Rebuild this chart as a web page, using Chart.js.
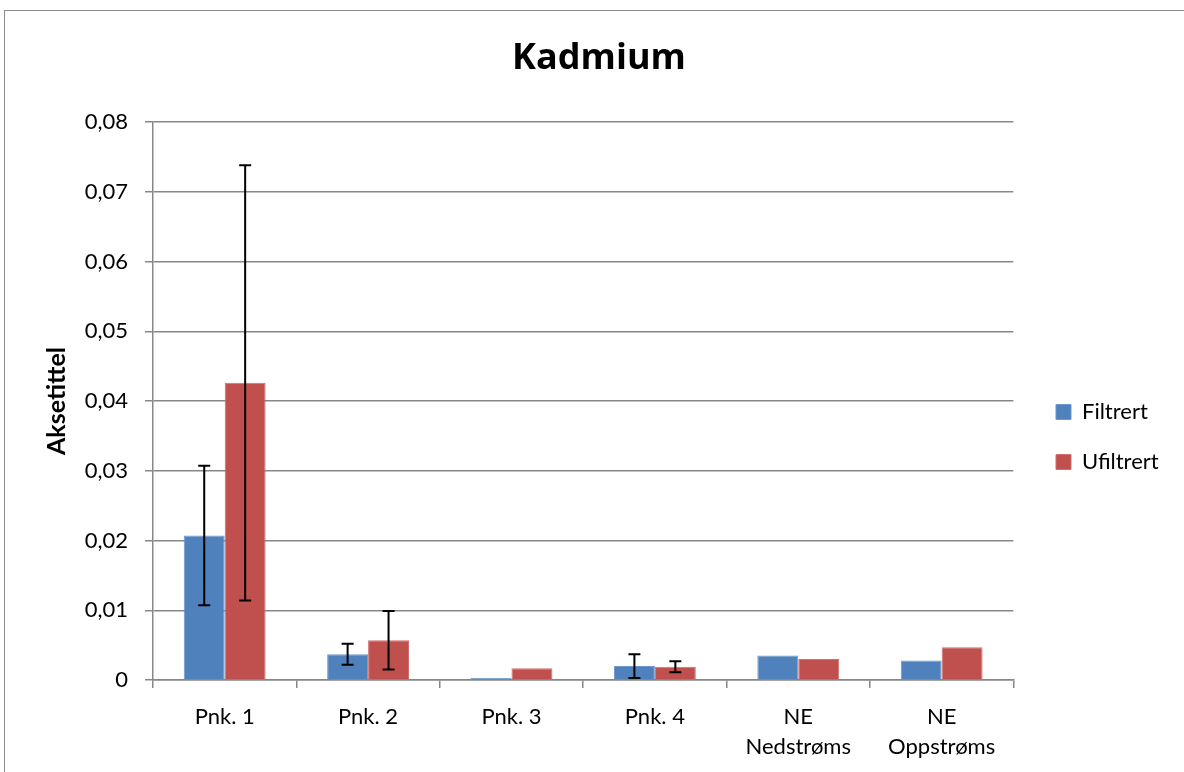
<!DOCTYPE html>
<html>
<head>
<meta charset="utf-8">
<script src="https://cdn.jsdelivr.net/npm/chart.js@4"></script>
<style>
    html, body { margin: 0; padding: 0; background: #fff; }
    #frame {
        position: absolute; left: 4px; top: 10px;
        width: 1300px; height: 900px;
        border: 1.5px solid #8a8a8a;
    }
    #chart { position: absolute; left: 0; top: 0; }
</style>
</head>
<body>
<div id="frame"></div>
<canvas id="chart" width="1184" height="772"></canvas>
<script>
// Data
const categories = ['Pnk. 1', 'Pnk. 2', 'Pnk. 3', 'Pnk. 4', ['NE', 'Nedstrøms'], ['NE', 'Oppstrøms']];
const filtrert = [0.0207, 0.0037, 0.0003, 0.0020, 0.0035, 0.0028];
const ufiltrert = [0.0426, 0.0057, 0.0017, 0.0019, 0.0030, 0.0047];
const filtrertErr = [0.0100, 0.0015, null, 0.0017, null, null];
const ufiltrertErr = [0.0312, 0.0042, null, 0.0008, null, null];
const yTicks = [0, 0.01, 0.02, 0.03, 0.04, 0.05, 0.06, 0.07, 0.08];

const gridGray = '#878787';
const fontFamily = 'Lato, "Noto Sans", sans-serif';

/**
 * Draw symmetric error bars on top of the bars
 */
const errorBars = {
    id: 'errorBars',
    afterDatasetsDraw(chart) {
        const ctx = chart.ctx;
        const y = chart.scales.y;
        chart.data.datasets.forEach((ds, i) => {
            const meta = chart.getDatasetMeta(i);
            meta.data.forEach((bar, j) => {
                const err = ds.errors[j];
                if (err == null) return;
                const top = y.getPixelForValue(ds.data[j] + err);
                const bottom = y.getPixelForValue(ds.data[j] - err);
                ctx.save();
                ctx.strokeStyle = '#000';
                ctx.lineWidth = 2;
                ctx.beginPath();
                ctx.moveTo(bar.x, top);
                ctx.lineTo(bar.x, bottom);
                ctx.moveTo(bar.x - 6, top);
                ctx.lineTo(bar.x + 6, top);
                ctx.moveTo(bar.x - 6, bottom);
                ctx.lineTo(bar.x + 6, bottom);
                ctx.stroke();
                ctx.restore();
            });
        });
    }
};

/**
 * Move the legend and title to where the reference puts them
 */
const boxNudge = {
    id: 'boxNudge',
    afterLayout(chart) {
        const lg = chart.legend;
        const w = lg.width;
        lg.left = 1028;
        lg.right = lg.left + w;
        lg.top = 373;
        lg.bottom = 700;

        const tb = chart.titleBlock;
        tb.left += 22;
        tb.right += 22;
    }
};

new Chart(document.getElementById('chart'), {
    type: 'bar',
    data: {
        labels: categories,
        datasets: [
            {
                label: 'Filtrert',
                data: filtrert,
                errors: filtrertErr,
                backgroundColor: '#4F81BD',
                borderColor: '#6f97cb',
                borderWidth: 1
            },
            {
                label: 'Ufiltrert',
                data: ufiltrert,
                errors: ufiltrertErr,
                backgroundColor: '#C0504D',
                borderColor: '#cf706d',
                borderWidth: 1
            }
        ]
    },
    options: {
        responsive: false,
        animation: false,
        categoryPercentage: 0.571,
        barPercentage: 1.0,
        layout: {
            padding: { top: 0, left: 0, right: 30, bottom: 0 }
        },
        scales: {
            x: {
                grid: {
                    display: true,
                    offset: true,
                    drawOnChartArea: false,
                    drawTicks: true,
                    tickLength: 8,
                    color: gridGray,
                    lineWidth: 1.5
                },
                border: { display: true, color: gridGray, width: 1.5 },
                ticks: {
                    color: '#000',
                    padding: 14,
                    maxRotation: 0,
                    autoSkip: false,
                    font: { family: fontFamily, size: 22, lineHeight: '30px' }
                },
                afterFit(scale) { scale.height = 92; }
            },
            y: {
                min: 0,
                max: 0.08,
                afterBuildTicks(scale) {
                    scale.ticks = yTicks.map(v => ({ value: v }));
                },
                grid: {
                    color: gridGray,
                    lineWidth: 1.5,
                    drawTicks: true,
                    tickLength: 8
                },
                border: { display: true, color: gridGray, width: 1.5 },
                ticks: {
                    color: '#000',
                    padding: 17,
                    font: { family: fontFamily, size: 22 },
                    callback: v => v === 0 ? '0' : v.toFixed(2).replace('.', ',')
                },
                title: {
                    display: true,
                    text: 'Aksetittel',
                    color: '#000',
                    padding: { top: 43, bottom: 0 },
                    font: { family: fontFamily, size: 25, weight: 'bold', lineHeight: 1.1 }
                },
                afterFit(scale) { scale.width = 153; }
            }
        },
        plugins: {
            title: {
                display: true,
                text: 'Kadmium',
                color: '#000',
                padding: { top: 37.4, bottom: 41.4 },
                font: { family: '"Open Sans", Lato, sans-serif', size: 36, weight: 'bold', lineHeight: 1.2 }
            },
            legend: {
                display: true,
                position: 'right',
                align: 'start',
                labels: {
                    color: '#000',
                    boxWidth: 15,
                    boxHeight: 15,
                    padding: 28,
                    font: { family: fontFamily, size: 22 }
                }
            },
            tooltip: { enabled: false }
        }
    },
    plugins: [errorBars, boxNudge]
});
</script>
</body>
</html>
